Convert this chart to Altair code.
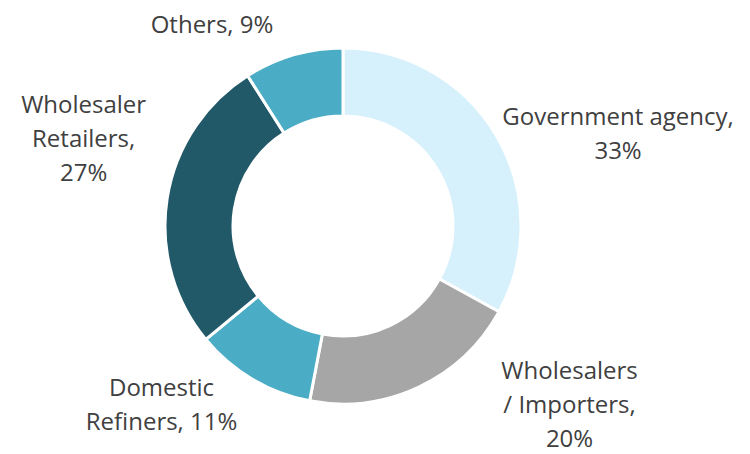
import altair as alt
import pandas as pd

categories = ["Government agency", "Wholesalers / Importers", "Domestic Refiners",
              "Wholesaler Retailers", "Others"]
values = [33, 20, 11, 27, 9]
label_lines = [
    "Government agency,\n{}%",
    "Wholesalers\n/ Importers,\n{}%",
    "Domestic\nRefiners, {}%",
    "Wholesaler\nRetailers,\n{}%",
    "Others, {}%",
]
colors = ["#d6f1fc", "#a6a6a6", "#4bacc6", "#215968", "#4bacc6"]

df = pd.DataFrame({
    "cat": categories,
    "value": values,
    "idx": list(range(len(categories))),
    "label": [t.format(v) for t, v in zip(label_lines, values)],
})

CX, CY = 335, 218
label_radius = 215
label_nudge = {  # per-label (dx, dy) nudges, like Excel's best-fit placement
    "Government agency": (90, 1),
    "Wholesalers / Importers": (135, -49),
    "Domestic Refiners": (-72, -22),
    "Wholesaler Retailers": (-47, -86),
    "Others": (-71, 6),
}

theta_scale = alt.Scale(domain=[0, 100])
base = alt.Chart(df)

arc = base.mark_arc(innerRadius=110, outerRadius=178, stroke="white", strokeWidth=3).encode(
    theta=alt.Theta("value:Q", stack=True, scale=theta_scale),
    color=alt.Color("cat:N", scale=alt.Scale(domain=categories, range=colors), legend=None),
    order=alt.Order("idx:Q"),
    x=alt.value(CX),
    y=alt.value(CY),
)

layers = [arc]
for c in categories:
    dx, dy = label_nudge[c]
    t = (
        base.transform_window(cum="sum(value)", sort=[alt.SortField("idx")], frame=[None, 0])
        .transform_calculate(mid="datum.cum - datum.value / 2")
        .transform_filter(alt.datum.cat == c)
        .mark_text(
            radius=label_radius, dx=dx, dy=dy, font="Open Sans", fontSize=24,
            color="#404040", lineBreak="\n", lineHeight=34, align="center",
            baseline="middle",
        )
        .encode(
            theta=alt.Theta("mid:Q", stack=None, scale=theta_scale),
            text="label:N",
            x=alt.value(CX),
            y=alt.value(CY),
        )
    )
    layers.append(t)

chart = alt.layer(*layers).properties(
    width=734, height=446, padding=0, autosize=alt.AutoSizeParams(type="none")
).configure_view(stroke=None)

chart.save("out.html", embed_options={"renderer": "svg", "actions": False})
